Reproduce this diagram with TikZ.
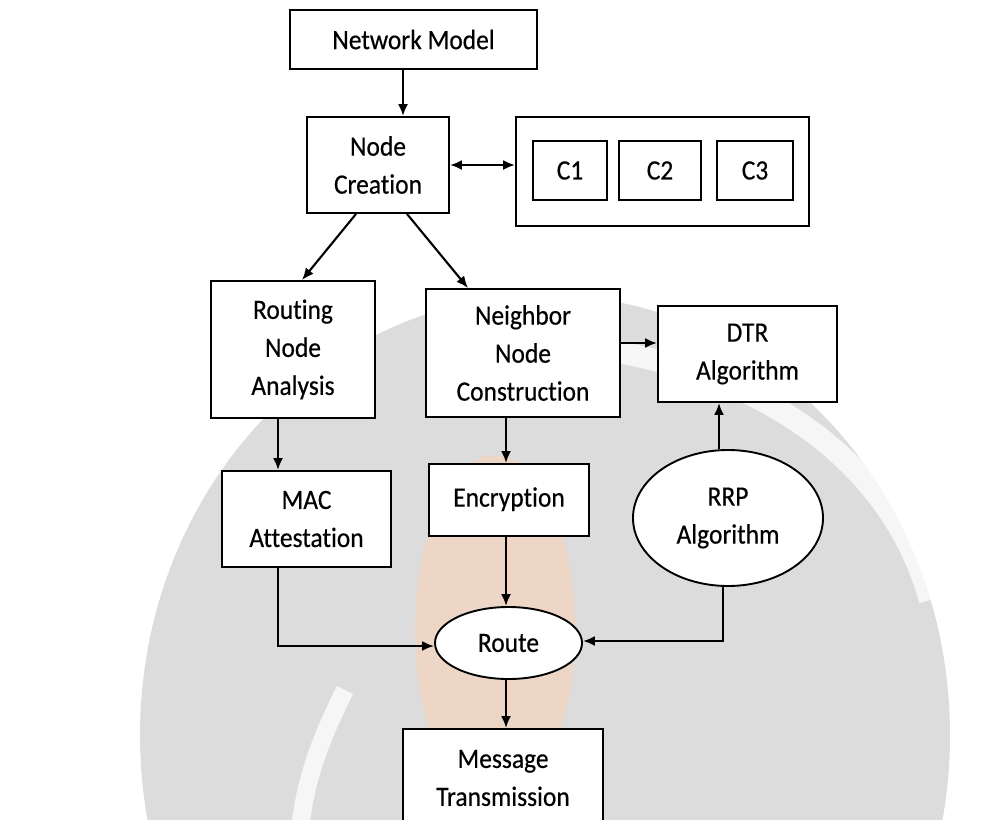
\documentclass[tikz,border=0pt]{standalone}
\usepackage{fontspec}
\setmainfont{Carlito}[FakeStretch=0.91, Ligatures=NoCommon, FakeBold=0.4]
\usetikzlibrary{arrows.meta,shapes.geometric,calc}
\definecolor{wmgray}{RGB}{220,220,220}
\definecolor{wmorange}{RGB}{238,214,198}
\tikzset{
  box/.style={draw, line width=1.9pt, fill=white, inner sep=0pt, align=center,
    font=\fontsize{28}{38}\selectfont},
  oval/.style={box, ellipse},
  arr/.style={line width=2.1pt, -{Latex[length=12pt,width=10pt]}},
  arrtwo/.style={line width=2.1pt, {Latex[length=12pt,width=10pt]}-{Latex[length=12pt,width=10pt]}},
}
\begin{document}
\begin{tikzpicture}[x=1pt,y=-1pt]
\useasboundingbox (0,0) rectangle (984,819);
% faint watermark
\begin{scope}
\clip (0,0) rectangle (984,819);
\fill[wmgray] (545,735) ellipse [x radius=405pt, y radius=440pt];
\fill[wmorange] (495,630) ellipse [x radius=80pt, y radius=175pt];
\draw[white, line width=22pt, opacity=0.75] (470,345) .. controls (680,330) and (880,420) .. (930,600);
\draw[white, line width=18pt, opacity=0.75] (345,690) .. controls (320,740) and (305,780) .. (300,830);
\end{scope}
% nodes
\node[box, minimum width=247pt, minimum height=59pt] (nm) at (413.5,39.5) {Network Model};
\node[box, minimum width=142pt, minimum height=96pt] (nc) at (378,165) {Node\\Creation};
\node[box, minimum width=293pt, minimum height=109pt] (cont) at (662.5,171.5) {};
\node[box, minimum width=74pt, minimum height=59pt] (c1) at (570,170.5) {C1};
\node[box, minimum width=82pt, minimum height=59pt] (c2) at (660,170.5) {C2};
\node[box, minimum width=76pt, minimum height=59pt] (c3) at (755,170.5) {C3};
\node[box, minimum width=164pt, minimum height=137pt] (rna) at (293,349.5) {Routing\\Node\\Analysis};
\node[box, minimum width=194pt, minimum height=128pt] (nnc) at (523,353) {Neighbor\\Node\\Construction};
\node[box, minimum width=179pt, minimum height=96pt] (dtr) at (747.5,354) {DTR\\Algorithm};
\node[box, minimum width=169pt, minimum height=96pt] (mac) at (306.5,519) {MAC\\Attestation};
\node[box, minimum width=160pt, minimum height=72pt, text depth=6pt] (enc) at (509,500) {Encryption};
\node[oval, minimum width=190pt, minimum height=136pt] (rrp) at (728,518) {RRP\\Algorithm};
\node[oval, minimum width=147pt, minimum height=72pt] (route) at (508.5,643) {Route};
\node[box, minimum width=200pt, minimum height=98pt] (mt) at (503,778) {Message\\Transmission};
% connectors
\draw[arr] ([xshift=-10.5pt]nm.south) -- ([xshift=-10.5pt]nm.south |- nc.north);
\draw[arrtwo] (nc.east) -- (cont.west |- nc.east);
\draw[arr] ([xshift=-22pt]nc.south) -- ([xshift=9pt]rna.north);
\draw[arr] ([xshift=29pt]nc.south) -- ([xshift=-55pt]nnc.north);
\draw[arr] ([yshift=10pt]nnc.east) -- ([yshift=10pt]nnc.east -| dtr.west);
\draw[arr] ([xshift=-15pt]rna.south) -- ([xshift=-15pt]rna.south |- mac.north);
\draw[arr] ([xshift=-17pt]nnc.south) -- ([xshift=-17pt]nnc.south |- enc.north);
\draw[arr] ([xshift=-9pt]rrp.north) -- ([xshift=-9pt]rrp.north |- dtr.south);
\draw[arr] ([xshift=-28.5pt]mac.south) |- ([yshift=-3pt]route.west);
\draw[arr] ([xshift=-3pt]enc.south) -- ([xshift=-3pt]enc.south |- route.north);
\draw[arr] ([xshift=-5pt]rrp.south) |- ([yshift=2pt]route.east);
\draw[arr] ([xshift=-2.5pt]route.south) -- ([xshift=-2.5pt]route.south |- mt.north);
\end{tikzpicture}
\end{document}
